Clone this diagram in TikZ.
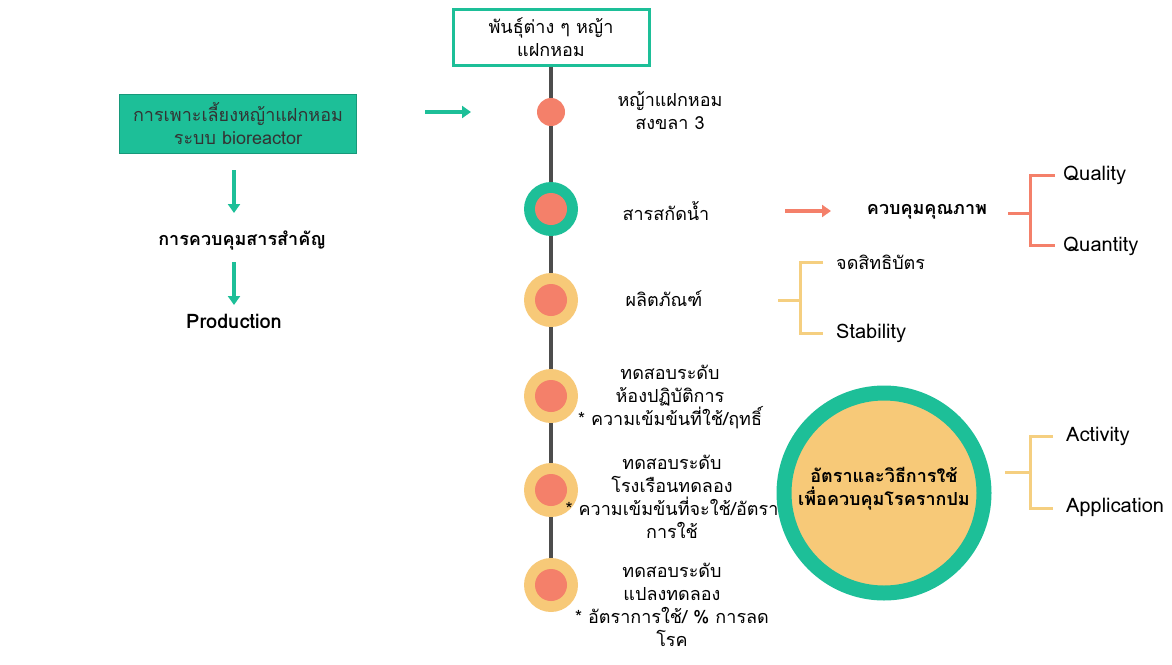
\documentclass[tikz,border=0pt]{standalone}
\usepackage{fontspec}
\setmainfont[Script=Thai]{Loma}
\usetikzlibrary{arrows.meta}
\definecolor{teal1}{HTML}{1DBF98}
\definecolor{salmon}{HTML}{F4806A}
\definecolor{yell}{HTML}{F7C978}
\definecolor{brk}{HTML}{F5CF80}
\definecolor{line1}{HTML}{4D4D4D}
\tikzset{
  txt/.style={font=\fontsize{18}{23}\selectfont, align=center, inner sep=0pt},
  btxt/.style={txt, font=\fontsize{18}{23}\selectfont\bfseries},
  latin/.style={font=\fontsize{20}{24}\selectfont, inner sep=0pt},
  blatin/.style={font=\fontsize{20}{24}\selectfont\bfseries, inner sep=0pt},
  ltxt/.style={txt, anchor=west},
  garrow/.style={draw=teal1, line width=3.5pt, -{Triangle[length=9pt,width=12pt]}},
  sarrow/.style={draw=salmon, line width=3.5pt, -{Triangle[length=9pt,width=12pt]}},
  sbr/.style={draw=salmon, line width=3pt},
  ybr/.style={draw=brk, line width=3pt},
  smalldot/.style={circle, fill=salmon, minimum size=28pt, inner sep=0pt},
  innerdot/.style={circle, fill=salmon, minimum size=32pt, inner sep=0pt},
  tealring/.style={circle, fill=teal1, minimum size=54pt, inner sep=0pt},
  yellring/.style={circle, fill=yell, minimum size=54pt, inner sep=0pt},
}
\begin{document}
\begin{tikzpicture}[x=1pt,y=-1pt]
\useasboundingbox (0,0) rectangle (1172,664);
% top box
\node[draw=teal1, line width=3pt, fill=white, minimum width=196pt, minimum height=56pt, txt] (top) at (551,37) {พันธุ์ต่าง ๆ หญ้า\\แฝกหอม};
% timeline
\coordinate (bot) at (551,585);
\draw[line1, line width=4pt] (top.south) -- (bot);
\node[smalldot] (c1) at (551,112) {};
\node[tealring] (c2) at (551,209) {};
\node[innerdot] at (c2) {};
\node[yellring] (c3) at (551,300) {};
\node[innerdot] at (c3) {};
\node[yellring] (c4) at (551,396) {};
\node[innerdot] at (c4) {};
\node[yellring] (c5) at (551,490) {};
\node[innerdot] at (c5) {};
\node[yellring] (c6) at (551,585) {};
\node[innerdot] at (c6) {};
% labels
\node[txt] (l1) at (670,111) {หญ้าแฝกหอม\\สงขลา 3};
\node[txt] (l2) at (666,211) {สารสกัดน้ำ};
\node[txt] (l3) at (664,299) {ผลิตภัณฑ์};
\node[txt] (l4) at (670,397) {ทดสอบระดับ\\ห้องปฏิบัติการ\\* ความเข้มข้นที่ใช้/ฤทธิ์};
\node[txt] (l5) at (672,497) {ทดสอบระดับ\\โรงเรือนทดลอง\\* ความเข้มข้นที่จะใช้/อัตรา\\การใช้};
\node[txt] (l6) at (672,605) {ทดสอบระดับ\\แปลงทดลอง\\* อัตราการใช้/ \% การลด\\โรค};
% left column
\node[draw=teal1!80!black, line width=0.6pt, fill=teal1, minimum width=237pt, minimum height=59pt, txt, text=black!80] (bio) at (238,124) {การเพาะเลี้ยงหญ้าแฝกหอม\\ระบบ bioreactor};
\node[btxt] (ctrl) at (242,241) {การควบคุมสารสำคัญ};
\node[blatin] (prod) at (234,321) {Production};
\draw[garrow] (234,170) -- (234,213);
\draw[garrow] (234,262) -- (234,305);
\coordinate (ga1) at (425,112);
\coordinate (ga2) at (471,112);
\draw[garrow] (ga1) -- (ga2);
% quality branch
\coordinate (sa1) at (785,211);
\coordinate (sa2) at (831,211);
\draw[sarrow] (sa1) -- (sa2);
\node[btxt] (qc) at (927,212) {ควบคุมคุณภาพ};
\node[latin, anchor=west] (ql) at (1063,175) {Quality};
\node[latin, anchor=west] (qn) at (1063,246) {Quantity};
\draw[sbr] (1008,213) -- (1030,213);
\draw[sbr] (1055,175) -- (1030,175) -- (1030,245) -- (1055,245);
% product branch
\node[ltxt] (pt) at (836,262) {จดสิทธิบัตร};
\node[latin, anchor=west] (st) at (836,333) {Stability};
\draw[ybr] (778,300) -- (800,300);
\draw[ybr] (823,262) -- (800,262) -- (800,333) -- (823,333);
% big circle
\node[circle, draw=teal1, line width=15pt, fill=yell, minimum size=200pt, inner sep=0pt] (big) at (884,493) {};
\node[btxt] (bigt) at (884,489) {อัตราและวิธีการใช้\\เพื่อควบคุมโรครากปม};
\node[latin, anchor=west] (act) at (1066,436) {Activity};
\node[latin, anchor=west] (app) at (1066,507) {Application};
\draw[ybr] (1005,472) -- (1030,472);
\draw[ybr] (1053,436) -- (1030,436) -- (1030,508) -- (1053,508);
\end{tikzpicture}
\end{document}
